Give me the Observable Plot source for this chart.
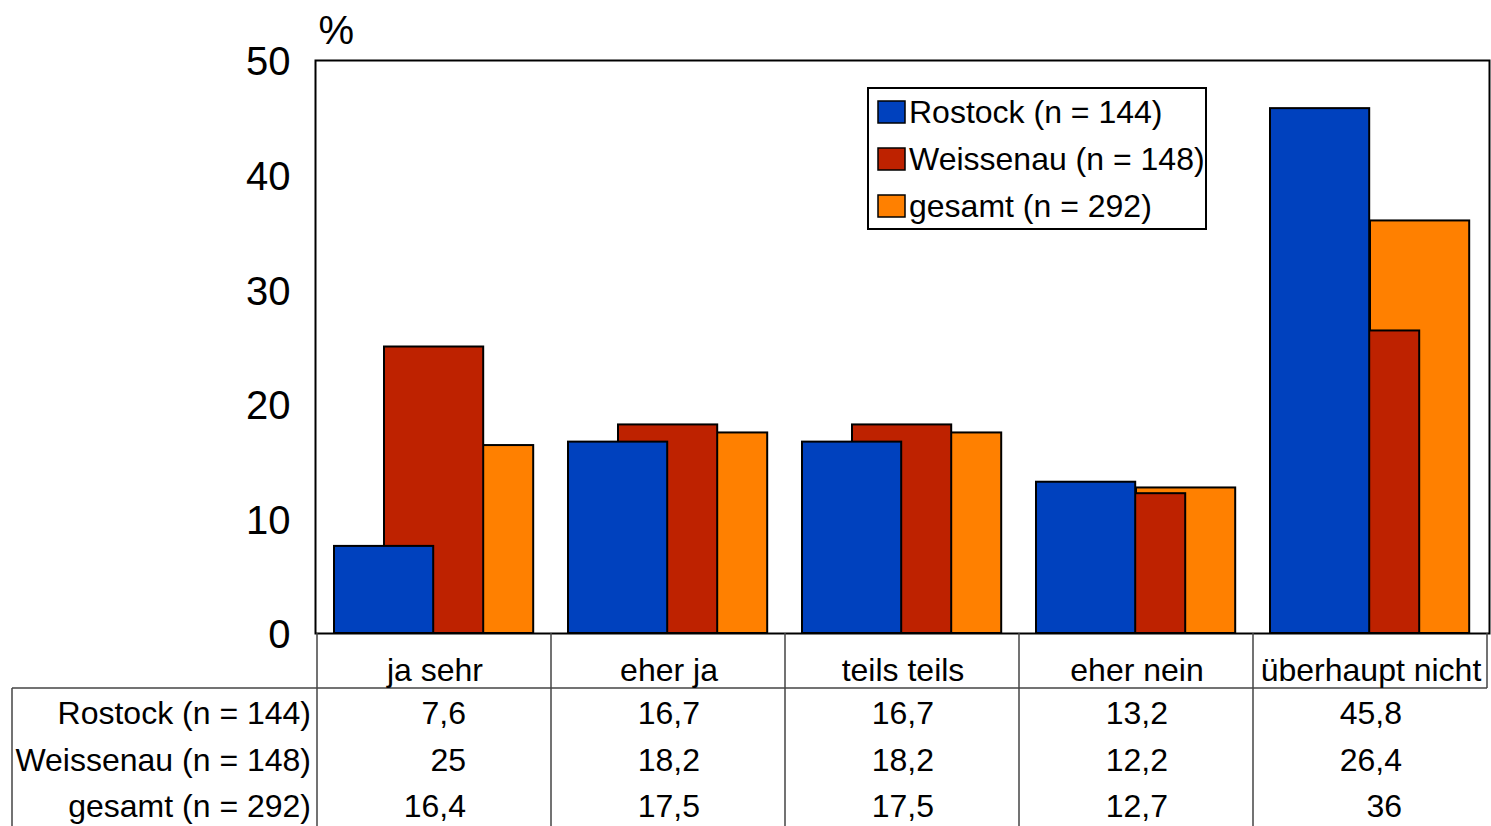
<!DOCTYPE html>
<html>
<head>
<meta charset="utf-8">
<script src="https://cdn.jsdelivr.net/npm/d3@7"></script>
<script src="https://cdn.jsdelivr.net/npm/@observablehq/plot@0.6"></script>
<style>
  html, body { margin: 0; padding: 0; background: #fff; }
  #chart { position: relative; width: 1491px; height: 826px; }
</style>
</head>
<body>
<div id="chart"></div>
<script>
// ---- data ----
const categories = ["ja sehr", "eher ja", "teils teils", "eher nein", "überhaupt nicht"];
const seriesNames = ["Rostock (n = 144)", "Weissenau (n = 148)", "gesamt (n = 292)"];
const rostock   = [7.6, 16.7, 16.7, 13.2, 45.8];
const weissenau = [25, 18.2, 18.2, 12.2, 26.4];
const gesamt    = [16.4, 17.5, 17.5, 12.7, 36];
const yTicks = [0, 10, 20, 30, 40, 50];
const colors = ["#0041BE", "#BE2200", "#FF8000"];

const seriesValues = [rostock, weissenau, gesamt];
const rows = seriesValues.map((vals, s) => categories.map((c, i) => ({cat: c, value: vals[i], series: seriesNames[s]})));

const W = 1491, H = 826;
const mL = 315, mR = 2, mT = 60, mB = 193;
const bw = (W - mL - mR) / categories.length;
// bar position inside each band (fractions of band width)
const barW = 100 / 234.8;
const offs = [17 / 234.8, 67 / 234.8, 117 / 234.8];
const barMark = (s) => Plot.barY(rows[s], {
  x: "cat", y: "value", fill: colors[s], stroke: "black", strokeWidth: 2,
  insetLeft: offs[s] * bw, insetRight: bw - (offs[s] + barW) * bw
});

const chart = Plot.plot({
  width: W, height: H,
  marginLeft: mL, marginRight: mR, marginTop: mT, marginBottom: mB,
  style: {fontFamily: "'Liberation Sans', Arial, sans-serif", background: "white", color: "black"},
  x: {domain: categories, padding: 0, axis: null},
  y: {domain: [0, 50], axis: null},
  marks: [
    barMark(2), barMark(1), barMark(0),
    Plot.frame({stroke: "black", strokeWidth: 2}),
    Plot.axisY({ticks: yTicks, tickSize: 0, tickPadding: 25, fontSize: 40, label: null, dy: 2}),
    Plot.text(["%"], {frameAnchor: "top-left", dx: 3, dy: -17, fontSize: 40, textAnchor: "start", lineAnchor: "bottom"})
  ]
});
document.getElementById("chart").appendChild(chart);

// ---- table & legend drawn with the plot's scales ----
const svg = d3.select(chart);
const xs = chart.scale("x");
const ys = chart.scale("y");
const y0 = ys.apply(0);
const bandStart = c => xs.apply(c);
const x0 = bandStart(categories[0]);
const xEnd = bandStart(categories[categories.length - 1]) + xs.bandwidth;
const g = svg.append("g").attr("font-family", "'Liberation Sans', Arial, sans-serif").attr("fill", "black");
const lineColor = "#444";
const headerBottom = y0 + 55;

// grid lines
categories.forEach(c => {
  g.append("line").attr("x1", bandStart(c)).attr("x2", bandStart(c))
    .attr("y1", y0).attr("y2", H).attr("stroke", lineColor).attr("stroke-width", 1.5);
});
g.append("line").attr("x1", xEnd).attr("x2", xEnd).attr("y1", y0).attr("y2", headerBottom)
  .attr("stroke", lineColor).attr("stroke-width", 1.5);
g.append("line").attr("x1", 12).attr("x2", xEnd).attr("y1", headerBottom).attr("y2", headerBottom)
  .attr("stroke", lineColor).attr("stroke-width", 1.5);
g.append("line").attr("x1", 12).attr("x2", 12).attr("y1", headerBottom).attr("y2", H)
  .attr("stroke", lineColor).attr("stroke-width", 1.5);

// category labels
categories.forEach(c => {
  g.append("text").attr("x", bandStart(c) + xs.bandwidth / 2 + 1).attr("y", y0 + 48)
    .attr("text-anchor", "middle").attr("font-size", 32).text(c);
});
// rows
const rowBase = [y0 + 91, y0 + 138, y0 + 184];
seriesNames.forEach((name, s) => {
  g.append("text").attr("x", x0 - 6).attr("y", rowBase[s]).attr("text-anchor", "end")
    .attr("font-size", 32).text(name);
  categories.forEach((c, i) => {
    g.append("text").attr("x", bandStart(c) + xs.bandwidth / 2 + 32).attr("y", rowBase[s])
      .attr("text-anchor", "end").attr("font-size", 32)
      .text(String(seriesValues[s][i]).replace(".", ","));
  });
});

// legend
const lg = svg.append("g").attr("font-family", "'Liberation Sans', Arial, sans-serif");
const lx = 868, ly = 88, lw = 338, lh = 141;
lg.append("rect").attr("x", lx).attr("y", ly).attr("width", lw).attr("height", lh)
  .attr("fill", "white").attr("stroke", "black").attr("stroke-width", 2);
seriesNames.forEach((name, s) => {
  const cy = ly + 24 + s * 47;
  lg.append("rect").attr("x", lx + 10).attr("y", cy - 11).attr("width", 27).attr("height", 22)
    .attr("fill", colors[s]).attr("stroke", "black").attr("stroke-width", 1.5);
  lg.append("text").attr("x", lx + 41).attr("y", cy + 11).attr("font-size", 32)
    .attr("text-anchor", "start").attr("fill", "black").text(name);
});
</script>
</body>
</html>
